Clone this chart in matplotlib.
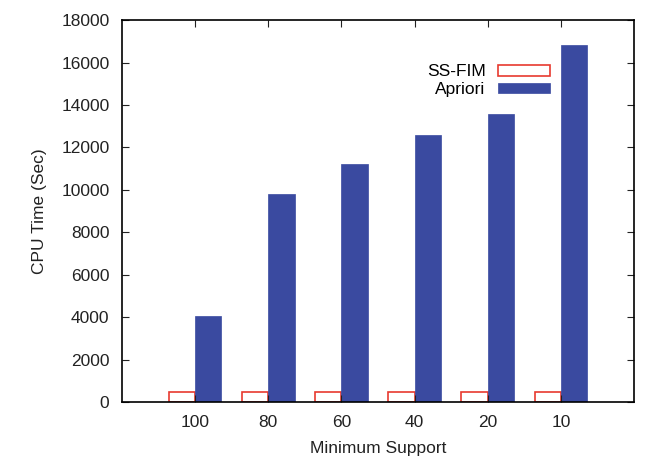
import matplotlib.pyplot as plt
import numpy as np

categories = ["100", "80", "60", "40", "20", "10"]
ssfim = [500, 500, 500, 500, 500, 500]
apriori = [4050, 9800, 11200, 12600, 13600, 16850]

plt.rcParams['font.family'] = ['Liberation Sans', 'DejaVu Sans']
fig = plt.figure(figsize=(6.45, 4.58), dpi=100)
ax = fig.add_axes([0.189, 0.122, 0.794, 0.834])

x = np.arange(len(categories))
w = 0.36
ax.bar(x - w / 2, ssfim, w, facecolor="white", edgecolor="#e8392f", linewidth=1.2, label="SS-FIM")
ax.bar(x + w / 2, apriori, w, color="#3a4aa0", edgecolor="#3a4aa0", linewidth=0.5, label="Apriori")

ax.set_xlim(-1, 6)
ax.set_ylim(0, 18000)
ax.set_xticks(x)
ax.set_xticklabels(categories)
ax.set_yticks(np.arange(0, 18001, 2000))
ax.tick_params(direction="in", top=True, right=True, length=5, labelsize=12.5, colors="#222222")
ax.tick_params(axis="x", pad=9)
ax.tick_params(axis="y", pad=9)
for s in ax.spines.values():
    s.set_linewidth(1.2)
ax.set_xlabel("Minimum Support", fontsize=12.5, color="#222222", labelpad=8)
ax.set_ylabel("CPU Time (Sec)", fontsize=12.5, color="#222222", labelpad=10)

ax.legend(loc="upper right", bbox_to_anchor=(0.866, 0.925), frameon=False, markerfirst=False,
          fontsize=12.5, handlelength=3.0, handleheight=0.55, labelspacing=0.15, handletextpad=0.7)

plt.savefig("out.png")
plt.close()
